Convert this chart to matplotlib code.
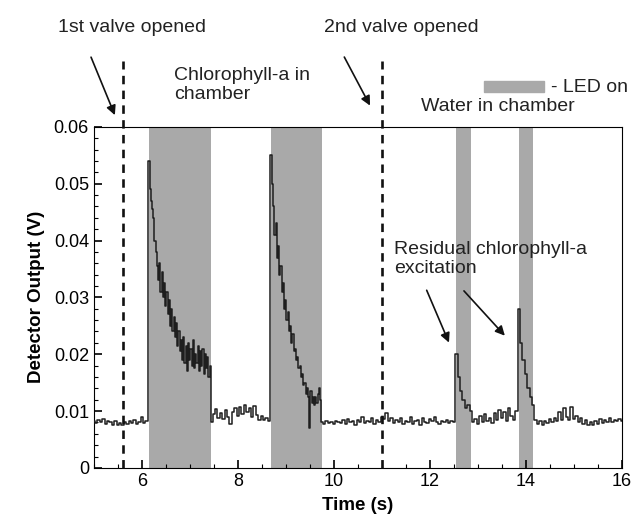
import numpy as np
import matplotlib
matplotlib.use('Agg')
import matplotlib.pyplot as plt
from matplotlib.patches import Rectangle
from matplotlib.ticker import MultipleLocator

plt.rcParams['font.family'] = ['Liberation Sans', 'DejaVu Sans']

# detector readings (mV), one list per section of the run
seg_starts = [5.00, 6.15, 7.45, 8.70, 9.75, 12.55, 12.90, 13.85, 14.20]
seg_steps = [0.05, 0.025, 0.05, 0.025, 0.05, 0.05, 0.05, 0.05, 0.05]
base_1 = [8.2, 7.9, 8.4, 8.0, 8.6, 7.8, 8.3, 8.1, 7.6, 8.2, 7.5, 7.9, 7.6, 8.0, 7.7,
          8.3, 7.9, 8.5, 7.8, 8.1, 9.0, 7.9, 8.3]
pulse_1 = [54.0, 49.0, 47.0, 45.5, 44.0, 40.0, 38.0, 35.5, 33.0, 36.0,
           31.0, 34.5, 30.0, 32.5, 28.5, 31.0, 27.0, 29.5, 25.0, 28.0,
           24.0, 26.5, 23.0, 25.5, 21.5, 24.0, 20.5, 22.5, 19.0, 23.0,
           18.5, 21.5, 17.0, 22.0, 19.0, 21.0, 18.0, 22.5, 17.5, 20.0,
           18.5, 21.5, 17.0, 20.5, 18.0, 21.0, 16.5, 20.0, 17.5, 19.5,
           16.0, 18.0]
base_2 = [8.0, 9.5, 10.3, 8.8, 9.6, 8.6, 10.2, 9.0, 7.8, 9.8, 10.5, 9.2, 10.8, 9.4, 11.0,
          9.8, 10.6, 8.9, 10.9, 9.3, 8.5, 9.1, 8.4, 8.7, 8.2]
pulse_2 = [55.0, 50.0, 46.0, 41.0, 43.0, 37.0, 39.0, 34.0, 35.5, 31.0,
           32.5, 28.0, 29.5, 26.0, 27.5, 24.0, 25.0, 22.0, 23.5, 20.5,
           21.0, 19.0, 19.5, 17.5, 18.0, 16.0, 16.5, 14.5, 15.0, 13.0,
           14.0, 12.5, 7.0, 13.5, 11.5, 12.5, 11.0, 12.5, 11.5, 13.0,
           14.0, 12.0]
base_3 = [8.0, 7.8, 8.2, 7.9, 8.1, 7.7, 8.3, 8.0, 7.9, 8.4, 7.8, 8.6, 8.0, 8.2, 7.6, 8.5,
          8.1, 8.9, 7.9, 8.3, 8.0, 8.7, 7.8, 8.4, 8.1, 9.0, 8.6, 9.6, 8.2, 8.8, 7.9, 8.5,
          8.0, 8.7, 7.7, 8.3, 8.1, 8.9, 7.8, 8.2, 8.4, 7.6, 8.8, 8.0, 7.9, 8.6, 8.2, 9.0,
          8.0, 7.8, 8.3, 8.1, 8.4, 7.9, 8.2, 8.0]
pulse_3 = [20.0, 16.0, 13.5, 12.0, 10.5, 11.0, 10.0]
base_4 = [8.0, 8.6, 7.8, 9.2, 8.1, 9.5, 8.3, 8.8, 7.9, 9.7, 8.4, 10.2, 8.7, 9.9, 8.2,
          10.5, 9.1, 8.5, 10.0]
pulse_4 = [28.0, 22.0, 19.0, 16.5, 14.0, 12.5, 11.0]
base_5 = [8.5, 7.8, 8.3, 7.5, 8.2, 7.9, 8.6, 8.0, 8.8, 8.3, 9.8, 8.5, 10.5, 9.0, 8.4,
          10.8, 8.6, 9.2, 8.1, 8.7, 7.7, 8.4, 7.6, 8.0, 7.5, 8.3, 7.8, 8.6, 7.9, 8.4,
          8.1, 8.7, 8.0, 8.5, 8.2, 8.6, 8.3]
segments = [base_1, pulse_1, base_2, pulse_2, base_3, pulse_3, base_4, pulse_4, base_5]

# LED on intervals (s) and valve times (s)
led_on = [(6.15, 7.45), (8.70, 9.75), (12.55, 12.85), (13.85, 14.15)]
valves = [5.6, 11.0]

t = np.concatenate([s0 + dt * np.arange(len(v))
                    for s0, dt, v in zip(seg_starts, seg_steps, segments)])
volts = np.concatenate(segments) / 1000.0

fig = plt.figure(figsize=(6.34, 5.24), dpi=100)
ax = fig.add_axes([0.148, 0.107, 0.833, 0.651])

for a, b in led_on:
    ax.axvspan(a, b, color='#a9a9a9', lw=0, zorder=1)

ax.plot(t, volts, color='#1e1e1e', lw=1.1, drawstyle='steps-mid', zorder=3)

# dashed valve lines go above the plot
for v in valves:
    ax.plot([v, v], [0, 0.0715], color='#111111', lw=1.9, ls=(0, (3.2, 2.4)),
            clip_on=False, zorder=4)

ax.set_xlim(5, 16)
ax.set_ylim(0, 0.06)
ax.set_xticks([6, 8, 10, 12, 14, 16])
ax.xaxis.set_minor_locator(MultipleLocator(0.5))
ax.set_yticks([0, 0.01, 0.02, 0.03, 0.04, 0.05, 0.06])
ax.set_yticklabels(['0', '0.01', '0.02', '0.03', '0.04', '0.05', '0.06'])
ax.yaxis.set_minor_locator(MultipleLocator(0.002))
ax.tick_params(which='both', direction='in', top=False, right=False, labelsize=13)
ax.tick_params(which='major', length=6, width=1.2)
ax.tick_params(which='minor', length=3, width=0.8)
ax.set_xlabel('Time (s)', fontsize=13.5, fontweight='bold', labelpad=5)
ax.set_ylabel('Detector Output (V)', fontsize=13.5, fontweight='bold', labelpad=6)

txt = dict(fontsize=14, color='#222222', annotation_clip=False)
arrow = dict(arrowstyle='-|>', color='#111111', lw=1.2, mutation_scale=14)
ax.annotate('1st valve opened', xy=(5.79, 0.0774), ha='center', va='center', **txt)
ax.annotate('', xy=(5.46, 0.0616), xytext=(4.92, 0.0727), arrowprops=arrow,
            annotation_clip=False)
ax.annotate('2nd valve opened', xy=(11.41, 0.0774), ha='center', va='center', **txt)
ax.annotate('', xy=(10.78, 0.0633), xytext=(10.19, 0.0727), arrowprops=arrow,
            annotation_clip=False)
ax.annotate('Chlorophyll-a in\nchamber', xy=(6.67, 0.0674), ha='left', va='center',
            linespacing=1.15, **txt)
ax.annotate('Water in chamber', xy=(11.82, 0.0635), ha='left', va='center', **txt)
ax.add_patch(Rectangle((13.13, 0.0662), 1.24, 0.0018, color='#a9a9a9', clip_on=False))
ax.annotate('- LED on', xy=(14.53, 0.0670), ha='left', va='center', **txt)
ax.annotate('Residual chlorophyll-a\nexcitation', xy=(11.25, 0.0368), ha='left', va='center',
            linespacing=1.15, **txt)
ax.annotate('', xy=(12.42, 0.0216), xytext=(11.91, 0.0317), arrowprops=arrow)
ax.annotate('', xy=(13.60, 0.0229), xytext=(12.67, 0.0315), arrowprops=arrow)

plt.savefig('out.png', dpi=100)
